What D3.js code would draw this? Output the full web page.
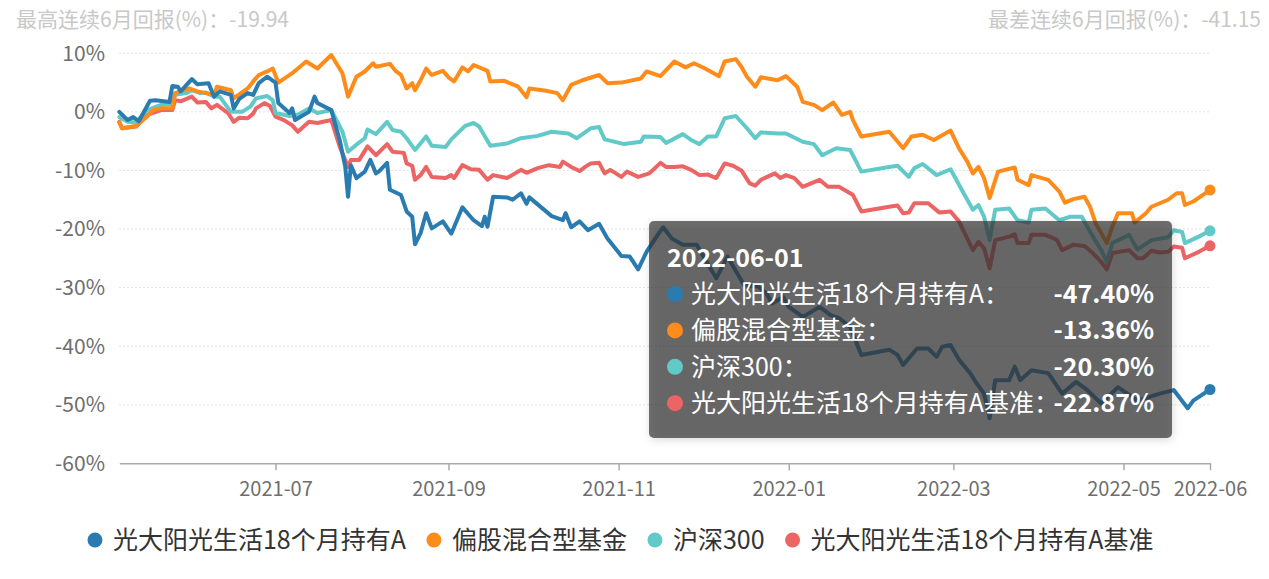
<!DOCTYPE html>
<html>
<head>
<meta charset="utf-8">
<script src="https://cdn.jsdelivr.net/npm/d3@7"></script>
<style>
  body { margin: 0; background: #fff; }
  svg { display: block; font-family: "Noto Sans CJK SC", "Noto Sans", sans-serif; }
</style>
</head>
<body>
<svg id="chart" width="1269" height="579"></svg>
<script>
// series names and colours, in legend order
var seriesNames = ['光大阳光生活18个月持有A', '偏股混合型基金', '沪深300', '光大阳光生活18个月持有A基准']
var seriesColors = ['#2a7bb0', '#fd8c1a', '#62c9c9', '#ec6464']

var xTickLabels = ['2021-07', '2021-09', '2021-11', '2022-01', '2022-03', '2022-05', '2022-06']
var yTicks = [10, 0, -10, -20, -30, -40, -50, -60]

var bestText = '最高连续6月回报(%)：-19.94'
var worstText = '最差连续6月回报(%)：-41.15'
var tooltipDate = '2022-06-01'

// cumulative return (%)
var fundA = [["2021-05-06",0.0],["2021-05-09",-1.4],["2021-05-11",-0.9],["2021-05-13",-1.6],["2021-05-17",1.9],["2021-05-19",2.0],["2021-05-24",1.7],["2021-05-25",4.4],["2021-05-27",4.3],["2021-05-28",3.5],["2021-06-01",5.6],["2021-06-03",4.7],["2021-06-07",4.9],["2021-06-09",2.6],["2021-06-11",3.5],["2021-06-15",2.9],["2021-06-16",0.6],["2021-06-18",2.2],["2021-06-21",3.2],["2021-06-23",2.9],["2021-06-25",4.9],["2021-06-28",6.0],["2021-07-01",5.0],["2021-07-02",1.5],["2021-07-06",-0.2],["2021-07-07",0.6],["2021-07-08",-1.4],["2021-07-13",0.0],["2021-07-15",2.6],["2021-07-16",1.5],["2021-07-21",0.3],["2021-07-24",-4.8],["2021-07-26",-9.4],["2021-07-27",-14.5],["2021-07-28",-9.1],["2021-07-30",-11.3],["2021-08-02",-10.2],["2021-08-04",-8.2],["2021-08-06",-10.5],["2021-08-07",-10.2],["2021-08-10",-8.7],["2021-08-11",-13.3],["2021-08-15",-14.2],["2021-08-17",-17.0],["2021-08-19",-17.9],["2021-08-20",-22.6],["2021-08-22",-20.7],["2021-08-24",-17.3],["2021-08-26",-19.9],["2021-08-30",-18.7],["2021-09-02",-20.8],["2021-09-06",-16.3],["2021-09-10",-18.5],["2021-09-13",-19.5],["2021-09-14",-17.9],["2021-09-15",-19.6],["2021-09-17",-14.5],["2021-09-22",-14.6],["2021-09-24",-15.0],["2021-09-27",-13.9],["2021-09-29",-15.7],["2021-09-30",-14.6],["2021-10-08",-17.8],["2021-10-12",-18.5],["2021-10-13",-17.3],["2021-10-15",-19.7],["2021-10-18",-18.7],["2021-10-21",-20.2],["2021-10-25",-19.1],["2021-10-28",-21.6],["2021-11-02",-24.6],["2021-11-05",-24.7],["2021-11-08",-26.9],["2021-11-11",-23.9],["2021-11-15",-21.0],["2021-11-17",-19.7],["2021-11-20",-21.6],["2021-11-24",-22.7],["2021-11-29",-22.7],["2021-12-06",-28.4],["2021-12-10",-24.7],["2021-12-16",-29.6],["2021-12-21",-29.8],["2021-12-24",-31.0],["2021-12-26",-32.7],["2021-12-30",-31.6],["2022-01-01",-33.3],["2022-01-06",-35.0],["2022-01-12",-33.3],["2022-01-16",-34.7],["2022-01-19",-35.2],["2022-01-23",-36.7],["2022-01-27",-41.5],["2022-02-06",-40.6],["2022-02-09",-41.5],["2022-02-11",-43.2],["2022-02-16",-40.4],["2022-02-20",-40.4],["2022-02-23",-41.8],["2022-02-25",-40.1],["2022-02-28",-39.8],["2022-03-03",-42.3],["2022-03-07",-44.6],["2022-03-09",-46.1],["2022-03-12",-48.1],["2022-03-14",-52.3],["2022-03-16",-45.8],["2022-03-21",-45.8],["2022-03-23",-43.5],["2022-03-25",-45.8],["2022-03-29",-44.1],["2022-04-04",-44.6],["2022-04-09",-48.1],["2022-04-14",-46.1],["2022-04-18",-47.5],["2022-04-23",-49.8],["2022-04-29",-47.0],["2022-05-06",-49.3],["2022-05-14",-48.1],["2022-05-19",-47.5],["2022-05-24",-50.6],["2022-05-26",-49.3],["2022-06-01",-47.40]]

var mixedFunds = [["2021-05-06",-1.8],["2021-05-07",-2.8],["2021-05-12",-2.4],["2021-05-16",-0.8],["2021-05-18",0.3],["2021-05-21",0.6],["2021-05-25",0.6],["2021-05-26",3.2],["2021-05-31",4.0],["2021-06-03",3.5],["2021-06-09",2.9],["2021-06-10",4.3],["2021-06-15",3.7],["2021-06-16",2.3],["2021-06-21",4.0],["2021-06-23",5.2],["2021-06-25",6.3],["2021-06-28",6.9],["2021-06-30",7.4],["2021-07-02",5.0],["2021-07-07",6.6],["2021-07-12",8.6],["2021-07-16",7.4],["2021-07-21",9.7],["2021-07-25",6.6],["2021-07-27",2.6],["2021-07-30",6.0],["2021-08-02",6.9],["2021-08-05",8.3],["2021-08-06",7.7],["2021-08-11",8.2],["2021-08-13",7.0],["2021-08-15",6.3],["2021-08-17",4.0],["2021-08-19",4.9],["2021-08-20",3.7],["2021-08-22",5.4],["2021-08-24",7.4],["2021-08-26",6.3],["2021-08-30",7.0],["2021-09-01",5.9],["2021-09-03",5.2],["2021-09-06",7.6],["2021-09-08",6.9],["2021-09-10",8.0],["2021-09-15",7.0],["2021-09-16",5.2],["2021-09-21",5.3],["2021-09-26",4.3],["2021-09-29",2.5],["2021-09-30",4.0],["2021-10-06",3.6],["2021-10-10",3.2],["2021-10-12",2.0],["2021-10-15",4.6],["2021-10-19",5.4],["2021-10-25",6.3],["2021-10-28",4.9],["2021-11-02",5.0],["2021-11-09",5.7],["2021-11-11",6.9],["2021-11-16",6.1],["2021-11-21",8.6],["2021-11-25",7.6],["2021-11-28",8.3],["2021-12-02",7.4],["2021-12-07",6.1],["2021-12-09",8.6],["2021-12-13",9.0],["2021-12-15",7.7],["2021-12-17",6.0],["2021-12-20",4.3],["2021-12-22",5.9],["2021-12-28",5.4],["2021-12-31",6.1],["2022-01-04",4.3],["2022-01-06",1.7],["2022-01-10",1.2],["2022-01-13",0.3],["2022-01-17",1.6],["2022-01-20",-0.5],["2022-01-23",0.0],["2022-01-24",-1.4],["2022-01-27",-4.2],["2022-02-06",-3.4],["2022-02-08",-4.5],["2022-02-11",-6.2],["2022-02-14",-4.2],["2022-02-18",-3.9],["2022-02-22",-4.8],["2022-02-28",-3.2],["2022-03-03",-6.2],["2022-03-06",-8.5],["2022-03-08",-10.5],["2022-03-10",-9.4],["2022-03-12",-11.3],["2022-03-14",-14.7],["2022-03-17",-10.2],["2022-03-23",-9.5],["2022-03-24",-11.6],["2022-03-28",-12.5],["2022-03-29",-10.8],["2022-04-04",-11.6],["2022-04-08",-13.6],["2022-04-10",-15.5],["2022-04-13",-14.9],["2022-04-17",-14.5],["2022-04-19",-16.2],["2022-04-21",-19.0],["2022-04-23",-20.7],["2022-04-25",-22.4],["2022-04-27",-19.6],["2022-04-29",-17.3],["2022-05-04",-17.3],["2022-05-05",-18.9],["2022-05-09",-17.3],["2022-05-11",-16.2],["2022-05-17",-15.0],["2022-05-20",-13.9],["2022-05-22",-13.9],["2022-05-23",-15.9],["2022-05-26",-15.3],["2022-06-01",-13.36]]

var hs300 = [["2021-05-06",-0.9],["2021-05-09",-1.7],["2021-05-12",-1.8],["2021-05-16",0.3],["2021-05-21",1.2],["2021-05-25",1.3],["2021-05-26",2.9],["2021-05-30",3.2],["2021-06-01",3.7],["2021-06-04",3.2],["2021-06-06",3.3],["2021-06-09",2.6],["2021-06-11",2.6],["2021-06-15",0.0],["2021-06-19",0.0],["2021-06-22",0.9],["2021-06-24",2.3],["2021-06-28",2.7],["2021-06-30",2.0],["2021-07-01",-0.2],["2021-07-06",-0.7],["2021-07-09",-0.5],["2021-07-13",0.6],["2021-07-16",-0.2],["2021-07-21",0.3],["2021-07-25",-3.4],["2021-07-27",-6.8],["2021-07-30",-5.6],["2021-08-02",-4.5],["2021-08-03",-3.0],["2021-08-06",-3.8],["2021-08-10",-1.7],["2021-08-12",-3.1],["2021-08-15",-3.4],["2021-08-17",-4.5],["2021-08-20",-6.5],["2021-08-24",-4.2],["2021-08-26",-5.8],["2021-08-31",-6.0],["2021-09-02",-4.7],["2021-09-07",-2.4],["2021-09-10",-1.9],["2021-09-12",-2.5],["2021-09-16",-5.8],["2021-09-22",-5.4],["2021-09-27",-4.5],["2021-10-03",-4.1],["2021-10-08",-3.4],["2021-10-14",-3.7],["2021-10-17",-4.5],["2021-10-22",-2.8],["2021-10-25",-2.6],["2021-10-27",-4.7],["2021-11-03",-5.5],["2021-11-09",-5.1],["2021-11-10",-4.2],["2021-11-16",-4.3],["2021-11-18",-5.3],["2021-11-24",-3.8],["2021-11-27",-4.8],["2021-11-30",-5.5],["2021-12-03",-4.2],["2021-12-06",-4.2],["2021-12-09",-1.1],["2021-12-13",-0.7],["2021-12-17",-2.8],["2021-12-20",-4.5],["2021-12-22",-3.5],["2021-12-28",-3.7],["2021-12-31",-3.7],["2022-01-06",-5.1],["2022-01-10",-5.5],["2022-01-13",-7.4],["2022-01-18",-6.2],["2022-01-23",-6.5],["2022-01-24",-7.4],["2022-01-27",-10.2],["2022-02-06",-9.4],["2022-02-09",-9.2],["2022-02-13",-11.1],["2022-02-15",-9.6],["2022-02-18",-8.9],["2022-02-23",-10.8],["2022-02-28",-9.8],["2022-03-04",-13.3],["2022-03-08",-16.7],["2022-03-10",-15.9],["2022-03-12",-17.9],["2022-03-14",-21.9],["2022-03-16",-16.7],["2022-03-21",-16.5],["2022-03-24",-18.5],["2022-03-28",-18.9],["2022-03-29",-16.7],["2022-04-03",-16.5],["2022-04-08",-18.5],["2022-04-12",-17.9],["2022-04-16",-17.9],["2022-04-20",-21.3],["2022-04-23",-23.6],["2022-04-25",-25.6],["2022-04-27",-22.4],["2022-05-03",-21.0],["2022-05-06",-23.5],["2022-05-11",-21.9],["2022-05-17",-21.4],["2022-05-19",-20.2],["2022-05-22",-20.5],["2022-05-23",-22.4],["2022-05-28",-21.3],["2022-06-01",-20.30]]

var benchmark = [["2021-05-06",-1.7],["2021-05-07",-2.8],["2021-05-12",-2.5],["2021-05-16",-0.5],["2021-05-21",0.3],["2021-05-25",0.3],["2021-05-26",2.0],["2021-05-28",1.8],["2021-06-01",2.6],["2021-06-03",1.6],["2021-06-06",1.7],["2021-06-08",0.6],["2021-06-10",1.2],["2021-06-14",-0.2],["2021-06-16",-1.7],["2021-06-18",-1.0],["2021-06-21",-1.1],["2021-06-23",-0.3],["2021-06-24",0.6],["2021-06-27",1.5],["2021-06-29",1.0],["2021-07-01",-0.8],["2021-07-04",-1.4],["2021-07-07",-2.3],["2021-07-09",-3.4],["2021-07-13",-1.7],["2021-07-16",-1.9],["2021-07-21",-1.4],["2021-07-24",-5.9],["2021-07-27",-9.4],["2021-07-28",-8.2],["2021-07-31",-8.2],["2021-08-03",-5.9],["2021-08-06",-7.4],["2021-08-10",-5.5],["2021-08-12",-6.8],["2021-08-16",-7.0],["2021-08-17",-8.8],["2021-08-19",-9.2],["2021-08-20",-11.6],["2021-08-22",-10.8],["2021-08-24",-9.4],["2021-08-26",-11.1],["2021-08-31",-11.3],["2021-09-02",-10.8],["2021-09-03",-11.3],["2021-09-06",-9.1],["2021-09-09",-9.8],["2021-09-12",-9.9],["2021-09-15",-11.6],["2021-09-17",-10.8],["2021-09-22",-11.3],["2021-09-27",-9.9],["2021-09-29",-10.4],["2021-10-03",-9.6],["2021-10-07",-9.1],["2021-10-11",-9.4],["2021-10-12",-8.5],["2021-10-15",-9.4],["2021-10-18",-10.1],["2021-10-20",-9.4],["2021-10-22",-8.8],["2021-10-25",-8.7],["2021-10-27",-10.5],["2021-10-29",-9.9],["2021-11-02",-11.1],["2021-11-04",-10.2],["2021-11-08",-11.1],["2021-11-12",-10.5],["2021-11-16",-8.7],["2021-11-18",-9.4],["2021-11-21",-9.4],["2021-11-24",-9.3],["2021-11-27",-9.9],["2021-11-30",-10.8],["2021-12-03",-10.7],["2021-12-06",-11.3],["2021-12-09",-8.8],["2021-12-12",-9.2],["2021-12-15",-10.0],["2021-12-18",-12.2],["2021-12-20",-12.6],["2021-12-22",-11.6],["2021-12-27",-10.5],["2021-12-29",-11.3],["2021-12-31",-10.8],["2022-01-03",-11.3],["2022-01-06",-12.8],["2022-01-09",-12.2],["2022-01-12",-11.6],["2022-01-15",-12.8],["2022-01-19",-12.8],["2022-01-23",-13.9],["2022-01-24",-14.2],["2022-01-27",-17.0],["2022-02-06",-16.2],["2022-02-09",-16.0],["2022-02-11",-17.3],["2022-02-13",-17.2],["2022-02-15",-15.6],["2022-02-20",-15.6],["2022-02-24",-17.2],["2022-02-28",-17.0],["2022-03-03",-18.7],["2022-03-08",-23.6],["2022-03-10",-22.2],["2022-03-12",-23.3],["2022-03-14",-26.7],["2022-03-16",-21.9],["2022-03-21",-21.3],["2022-03-23",-20.9],["2022-03-24",-22.4],["2022-03-28",-22.4],["2022-03-29",-21.0],["2022-04-03",-21.0],["2022-04-07",-21.8],["2022-04-09",-23.6],["2022-04-13",-22.7],["2022-04-17",-22.9],["2022-04-20",-24.1],["2022-04-23",-25.6],["2022-04-25",-26.9],["2022-04-27",-24.1],["2022-05-03",-23.6],["2022-05-06",-25.0],["2022-05-08",-25.0],["2022-05-11",-23.7],["2022-05-14",-24.0],["2022-05-17",-23.9],["2022-05-19",-23.0],["2022-05-22",-23.2],["2022-05-23",-25.0],["2022-05-28",-23.9],["2022-06-01",-22.87]]

var allSeries = [fundA, mixedFunds, hs300, benchmark]

var parseDay = d3.timeParse('%Y-%m-%d')
var parseMonth = d3.timeParse('%Y-%m')

var svg = d3.select('#chart')

var xs = d3.scaleTime().domain([parseDay('2021-05-06'), parseDay('2022-06-01')]).range([119.3, 1210])
var ys = d3.scaleLinear().domain([-60, 10]).range([463.3, 53.3])

// top stats
svg.append('text').attr('x', 16).attr('y', 27).text(bestText)
    .style('font-size', '21px').style('fill', '#c8c8c8')
svg.append('text').attr('x', 1261).attr('y', 27).attr('text-anchor', 'end').text(worstText)
    .style('font-size', '21px').style('fill', '#c8c8c8')

// grid
svg.append('g').selectAll('line').data(yTicks.filter(d => d != -60)).enter().append('line')
    .attr('x1', xs.range()[0]).attr('x2', xs.range()[1])
    .attr('y1', d => ys(d)).attr('y2', d => ys(d))
    .style('stroke', '#d9d9d9').style('stroke-width', 1).style('stroke-dasharray', '1.5,2.5')

svg.append('g').selectAll('text').data(yTicks).enter().append('text')
    .attr('x', 105).attr('y', d => ys(d)).attr('dy', '0.35em').attr('text-anchor', 'end')
    .text(d => d + '%')
    .style('font-size', '21px').style('fill', '#6e6e6e')

// x axis
var xAxis = d3.axisBottom(xs)
    .tickValues(xTickLabels.map(parseMonth))
    .tickFormat(d3.timeFormat('%Y-%m'))
    .tickSize(7).tickSizeOuter(0)

var gx = svg.append('g').attr('transform', 'translate(0,' + ys(-60) + ')').call(xAxis)
gx.select('.domain').style('stroke', '#aaa').style('stroke-width', 1.5)
gx.selectAll('.tick line').style('stroke', '#aaa').style('stroke-width', 1.5)
gx.selectAll('.tick text').attr('y', 19).attr('dy', '0.71em')
    .style('font-size', '20px').style('fill', '#6e6e6e').style('font-family', '"Noto Sans CJK SC", sans-serif')

// lines, benchmark first so the fund sits on top
var line = d3.line().x(d => xs(parseDay(d[0]))).y(d => ys(d[1]))
var order = [3, 2, 1, 0]
var lines = svg.append('g')
order.forEach(i => {
    lines.append('path').attr('d', line(allSeries[i]))
        .style('fill', 'none').style('stroke', seriesColors[i]).style('stroke-width', 4)
        .style('stroke-linejoin', 'round').style('stroke-linecap', 'round')
    var last = allSeries[i][allSeries[i].length - 1]
    lines.append('circle').attr('cx', xs(parseDay(last[0]))).attr('cy', ys(last[1])).attr('r', 5.5)
        .style('fill', seriesColors[i])
})

// legend, centred
var legend = svg.append('g')
var lx = 0
seriesNames.forEach((name, i) => {
    var g = legend.append('g').attr('transform', 'translate(' + lx + ',0)')
    g.append('circle').attr('cx', 0).attr('cy', 0).attr('r', 7.5).style('fill', seriesColors[i])
    var t = g.append('text').attr('x', 18).attr('y', 0).attr('dy', '0.35em').text(name)
        .style('font-size', '25px').style('fill', '#333')
    lx += 18 + t.node().getComputedTextLength() + 28
})
var legendWidth = lx - 28 + 7.5
legend.attr('transform', 'translate(' + (620.5 - legendWidth / 2 + 7.5) + ',540)')

// tooltip for the last date
var defs = svg.append('defs')
var shadow = defs.append('filter').attr('id', 'tipShadow').attr('x', '-10%').attr('y', '-10%').attr('width', '120%').attr('height', '130%')
shadow.append('feDropShadow').attr('dx', 1).attr('dy', 2).attr('stdDeviation', 4).attr('flood-color', '#000').attr('flood-opacity', 0.2)

var tip = svg.append('g').attr('transform', 'translate(649,221)')
tip.append('rect').attr('width', 523).attr('height', 217).attr('rx', 5)
    .style('fill', 'rgba(50,50,50,0.7)').attr('filter', 'url(#tipShadow)')
tip.append('text').attr('x', 18).attr('y', 46).text(tooltipDate)
    .style('font-size', '25px').style('font-weight', 'bold').style('fill', '#fff')

seriesNames.forEach((name, i) => {
    var cy = 73 + i * 36.4
    var last = allSeries[i][allSeries[i].length - 1]
    tip.append('circle').attr('cx', 26).attr('cy', cy).attr('r', 8).style('fill', seriesColors[i])
    tip.append('text').attr('x', 42).attr('y', cy).attr('dy', '0.35em').text(name + '：')
        .style('font-size', '25px').style('fill', '#fff')
    tip.append('text').attr('x', 505).attr('y', cy).attr('dy', '0.35em').attr('text-anchor', 'end')
        .text(last[1].toFixed(2) + '%')
        .style('font-size', '25px').style('font-weight', 'bold').style('fill', '#fff')
})
</script>
</body>
</html>
